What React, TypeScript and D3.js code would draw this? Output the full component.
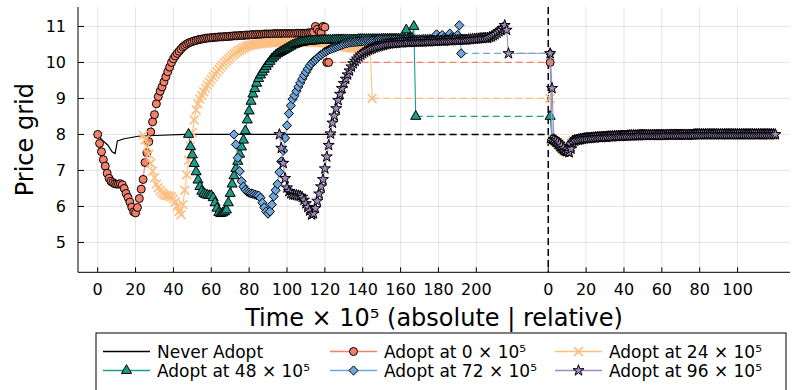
import React from 'react';
import * as d3 from 'd3';

const W = 792;
const H = 390;

// ---------- data ----------
const REL_OFFSET = 238; // absolute position of "relative 0"

const absTicks = [0, 20, 40, 60, 80, 100, 120, 140, 160, 180, 200];
const relTicks = [0, 20, 40, 60, 80, 100];
const yTicks = [5, 6, 7, 8, 9, 10, 11];

const neverT = [0, 1, 2.4, 4, 5.4, 7.6, 9.2, 10.4, 14, 21.4, 30, 46, 122];
const neverV = [8.0, 7.93, 7.84, 7.77, 7.7, 7.52, 7.47, 7.82, 7.88, 7.95, 7.97, 8.0, 8.0];
const neverDashEnd = 238;

const adoptLabels = ['Adopt at 0 × 10⁵', 'Adopt at 24 × 10⁵', 'Adopt at 48 × 10⁵', 'Adopt at 72 × 10⁵', 'Adopt at 96 × 10⁵'];
const adoptStarts = [0, 24, 48, 72, 96];

const red = [
  8.00, 7.75, 7.52, 7.30, 7.12, 6.92, 6.78, 6.70, 6.66, 6.63,
  6.62, 6.62, 6.63, 6.60, 6.50, 6.36, 6.25, 6.12, 5.98, 5.85,
  5.82, 5.97, 6.22, 6.48, 6.75, 7.22, 7.49, 7.80, 8.07, 8.35,
  8.55, 8.85, 9.05, 9.20, 9.32, 9.46, 9.60, 9.74, 9.87, 10.00,
  10.10, 10.18, 10.25, 10.31, 10.37, 10.43, 10.47, 10.51, 10.54, 10.56,
  10.58, 10.60, 10.61, 10.63, 10.64, 10.65, 10.66, 10.67, 10.68, 10.68,
  10.69, 10.69, 10.70, 10.70, 10.71, 10.71, 10.71, 10.72, 10.72, 10.72,
  10.73, 10.73, 10.74, 10.74, 10.74, 10.75, 10.75, 10.75, 10.76, 10.76,
  10.76, 10.77, 10.77, 10.77, 10.78, 10.78, 10.78, 10.78, 10.79, 10.79,
  10.79, 10.79, 10.79, 10.80, 10.80, 10.80, 10.80, 10.80, 10.80, 10.80,
  10.80, 10.80, 10.80, 10.80, 10.80, 10.81, 10.81, 10.81, 10.81, 10.81,
  10.81, 10.82, 10.82, 10.83, 10.84, 11.00, 10.92, 10.85, 10.82, 11.00,
  10.98, 10.00, 10.00,
];

const orange = [
  7.98, 7.85, 7.66, 7.45, 7.20, 6.98, 6.80, 6.62, 6.52, 6.44,
  6.38, 6.34, 6.31, 6.30, 6.29, 6.26, 6.21, 6.13, 6.00, 5.86,
  5.77, 6.05, 6.45, 6.88, 7.28, 7.68, 8.05, 8.40, 8.68, 8.85,
  8.98, 9.08, 9.18, 9.28, 9.37, 9.45, 9.53, 9.60, 9.67, 9.74,
  9.81, 9.87, 9.93, 9.99, 10.04, 10.09, 10.14, 10.19, 10.23, 10.27,
  10.31, 10.34, 10.37, 10.40, 10.43, 10.45, 10.47, 10.48, 10.49, 10.50,
  10.51, 10.52, 10.52, 10.53, 10.53, 10.54, 10.54, 10.55, 10.55, 10.55,
  10.55, 10.55, 10.55, 10.55, 10.55, 10.55, 10.56, 10.56, 10.56, 10.56,
  10.56, 10.56, 10.56, 10.56, 10.56, 10.56, 10.56, 10.56, 10.56, 10.56,
  10.56, 10.55, 10.55, 10.55, 10.55, 10.55, 10.54, 10.53, 10.52, 10.51,
  10.50, 10.49, 10.48, 10.47, 10.46, 10.45, 10.44, 10.43, 10.42, 10.41,
  10.40, 10.40, 10.39, 10.39, 10.38, 10.38, 10.37, 10.37, 10.36, 10.36,
  10.35, 9.00,
];

const teal = [
  8.00, 7.66, 7.43, 7.19, 6.96, 6.73, 6.55, 6.42, 6.36, 6.33,
  6.31, 6.30, 6.30, 6.24, 6.10, 5.95, 5.83, 5.80, 5.82, 5.85,
  5.90, 6.10, 6.36, 6.62, 6.85, 7.05, 7.25, 7.45, 7.65, 7.84,
  8.10, 8.40, 8.65, 8.92, 9.12, 9.27, 9.42, 9.55, 9.65, 9.73,
  9.81, 9.89, 9.96, 10.03, 10.10, 10.15, 10.20, 10.24, 10.27, 10.30,
  10.33, 10.36, 10.39, 10.42, 10.45, 10.48, 10.50, 10.52, 10.54, 10.55,
  10.56, 10.57, 10.58, 10.58, 10.59, 10.59, 10.60, 10.60, 10.61, 10.61,
  10.62, 10.62, 10.62, 10.62, 10.62, 10.62, 10.62, 10.63, 10.63, 10.63,
  10.63, 10.63, 10.63, 10.63, 10.63, 10.63, 10.63, 10.63, 10.63, 10.63,
  10.64, 10.64, 10.64, 10.64, 10.64, 10.64, 10.64, 10.64, 10.64, 10.64,
  10.64, 10.64, 10.65, 10.65, 10.65, 10.65, 10.65, 10.65, 10.65, 10.65,
  10.65, 10.65, 10.65, 10.65, 10.65, 10.90, 10.66, 10.66, 10.67, 11.00,
  8.50,
];

const blue = [
  8.00, 7.72, 7.35, 6.98, 6.70, 6.55, 6.46, 6.41, 6.38, 6.36,
  6.35, 6.33, 6.31, 6.30, 6.24, 6.10, 5.97, 5.86, 5.80, 5.86,
  6.05, 6.28, 6.45, 6.62, 6.95, 7.25, 7.55, 7.90, 8.25, 8.58,
  8.80, 8.98, 9.08, 9.20, 9.32, 9.43, 9.54, 9.64, 9.73, 9.82,
  9.91, 9.97, 10.03, 10.07, 10.12, 10.17, 10.21, 10.25, 10.29, 10.32,
  10.35, 10.37, 10.39, 10.41, 10.43, 10.45, 10.47, 10.49, 10.51, 10.53,
  10.54, 10.55, 10.56, 10.56, 10.57, 10.57, 10.58, 10.58, 10.59, 10.59,
  10.60, 10.60, 10.60, 10.61, 10.61, 10.61, 10.62, 10.62, 10.62, 10.62,
  10.63, 10.63, 10.63, 10.63, 10.63, 10.63, 10.63, 10.63, 10.63, 10.63,
  10.63, 10.64, 10.64, 10.64, 10.64, 10.64, 10.64, 10.64, 10.64, 10.64,
  10.65, 10.65, 10.65, 10.65, 10.65, 10.65, 10.65, 10.78, 10.68, 10.66,
  10.76, 10.68, 10.66, 10.70, 10.80, 10.70, 10.67, 10.68, 10.76, 11.03,
  10.25,
];

const purple = [
  8.00, 7.62, 7.20, 6.78, 6.52, 6.42, 6.36, 6.33, 6.32, 6.31,
  6.30, 6.29, 6.26, 6.18, 6.08, 5.98, 5.88, 5.77, 5.80, 5.95,
  6.15, 6.35, 6.55, 6.75, 7.05, 7.38, 7.70, 8.02, 8.32, 8.52,
  8.72, 8.95, 9.12, 9.28, 9.42, 9.54, 9.66, 9.77, 9.88, 9.97,
  10.04, 10.10, 10.16, 10.21, 10.25, 10.29, 10.32, 10.35, 10.37, 10.39,
  10.41, 10.43, 10.44, 10.46, 10.47, 10.48, 10.50, 10.51, 10.52, 10.53,
  10.53, 10.54, 10.54, 10.55, 10.55, 10.55, 10.56, 10.56, 10.56, 10.57,
  10.57, 10.57, 10.57, 10.57, 10.57, 10.58, 10.58, 10.58, 10.58, 10.58,
  10.59, 10.59, 10.59, 10.59, 10.60, 10.60, 10.60, 10.60, 10.61, 10.61,
  10.61, 10.61, 10.62, 10.62, 10.62, 10.62, 10.63, 10.63, 10.63, 10.63,
  10.64, 10.64, 10.65, 10.65, 10.66, 10.66, 10.67, 10.67, 10.68, 10.68,
  10.68, 10.70, 10.72, 10.75, 10.78, 10.82, 10.86, 10.90, 10.95, 11.03,
  10.90, 10.25,
];

// relative part: first value(s) per series, then the shared recovery (rel 2..119)
const relStart = [[10.0], [9.0], [8.5], [10.25], [10.25, 9.28]];
const relRecovery = [
  7.86, 7.83, 7.79, 7.74, 7.68, 7.62, 7.57, 7.53, 7.50, 7.60,
  7.76, 7.82, 7.84, 7.85, 7.86, 7.87, 7.88, 7.89, 7.89, 7.90,
  7.90, 7.91, 7.91, 7.92, 7.92, 7.92, 7.93, 7.93, 7.93, 7.94,
  7.94, 7.94, 7.95, 7.95, 7.95, 7.95, 7.96, 7.96, 7.96, 7.96,
  7.97, 7.97, 7.97, 7.97, 7.97, 7.97, 7.98, 7.98, 7.98, 7.98,
  7.98, 7.98, 7.98, 7.98, 7.98, 7.98, 7.98, 7.98, 7.98, 7.98,
  7.99, 7.99, 7.99, 7.99, 7.99, 7.99, 7.99, 7.99, 7.99, 7.99,
  7.99, 7.99, 7.99, 7.99, 7.99, 8.00, 8.00, 8.00, 8.00, 8.00,
  8.00, 8.00, 8.00, 8.00, 8.00, 8.00, 8.00, 8.00, 8.00, 8.00,
  8.00, 8.00, 8.00, 8.00, 8.00, 8.00, 8.00, 8.00, 8.00, 8.00,
  8.00, 8.00, 8.00, 8.00, 8.00, 8.00, 8.00, 8.00, 8.00, 8.00,
  8.00, 8.00, 8.00, 8.00, 8.00, 8.00, 8.00, 8.00,
];

const adoptValues = [red, orange, teal, blue, purple];
const adoptColors = ['#F4806C', '#FDBF80', '#1F9C88', '#6DA7DD', '#A18BBF'];
const adoptShapes = ['circle', 'xcross', 'utriangle', 'diamond', 'star'];

// ---------- rendering ----------
const FONT = 'DejaVu Sans, Noto Sans, sans-serif';
const L = 78, R = 790, T = 7, B = 272.3;

const triPath = d3.symbol(d3.symbolTriangle, 44)() as string;
const starPath = d3.symbol(d3.symbolStar, 38)() as string;
const diamondPath = 'M0,-4.6L4.6,0L0,4.6L-4.6,0Z';
const crossPath = 'M-4.4,-4.4L4.4,4.4M-4.4,4.4L4.4,-4.4';

function Marker({ shape, color, x, y }: { shape: string; color: string; x: number; y: number }) {
  const tr = `translate(${x},${y})`;
  const sw = 1;
  if (shape === 'circle') return <circle cx={x} cy={y} r={4} fill={color} stroke="#000" strokeWidth={sw} />;
  if (shape === 'xcross') return <path transform={tr} d={crossPath} fill="none" stroke={color} strokeWidth={1.6} />;
  if (shape === 'utriangle') return <path transform={tr} d={triPath} fill={color} stroke="#000" strokeWidth={sw} />;
  if (shape === 'diamond') return <path transform={tr} d={diamondPath} fill={color} stroke="#000" strokeWidth={sw} />;
  return <path transform={tr} d={starPath} fill={color} stroke="#000" strokeWidth={sw} />;
}

export default function App() {
  const x = d3.scaleLinear().domain([-10.4, 365.7]).range([L, R]);
  const y = d3.scaleLinear().domain([4.17, 11.54]).range([B, T]);
  const line = d3.line<[number, number]>().x((d) => x(d[0])).y((d) => y(d[1]));

  const neverPts: [number, number][] = neverT.map((t, i) => [t, neverV[i]]);
  const neverLastT = neverT[neverT.length - 1];

  const series = adoptValues.map((vals, si) => {
    const start = adoptStarts[si];
    const abs: [number, number][] = vals.map((v, i) => [start + i, v]);
    const relVals = relStart[si].concat(relRecovery);
    const rel: [number, number][] = relVals.map((v, i) => [REL_OFFSET + 1 + i, v]);
    const last = abs[abs.length - 1];
    const dash: [number, number][] = [last, rel[0]];
    return { abs, rel, dash, color: adoptColors[si], shape: adoptShapes[si], label: adoptLabels[si] };
  });

  const xTickItems = [
    ...absTicks.map((t) => ({ pos: t, label: String(t) })),
    ...relTicks.map((t) => ({ pos: REL_OFFSET + t, label: String(t) })),
  ];

  const legendCols = [103, 330, 555];
  const legendRows = [351.5, 370.5];
  const legendItems = [
    { label: 'Never Adopt', color: '#000', shape: '' },
    ...series.map((s) => ({ label: s.label, color: s.color, shape: s.shape })),
  ];

  return (
    <svg width={W} height={H} style={{ position: 'absolute', left: 0, top: 0, background: '#fff' }} fontFamily={FONT}>
      <rect x={0} y={0} width={W} height={H} fill="#fff" />
      {/* grid */}
      <g stroke="#000" strokeOpacity={0.1} strokeWidth={1}>
        {xTickItems.map((d, i) => (
          <line key={'gx' + i} x1={x(d.pos)} x2={x(d.pos)} y1={T} y2={B} />
        ))}
        {yTicks.map((v) => (
          <line key={'gy' + v} x1={L} x2={R} y1={y(v)} y2={y(v)} />
        ))}
      </g>

      {/* reference lines */}
      <line x1={x(REL_OFFSET)} x2={x(REL_OFFSET)} y1={T} y2={B} stroke="#000" strokeWidth={1.5} strokeDasharray="7 4" />
      <path d={line(neverPts) as string} fill="none" stroke="#000" strokeWidth={1.2} />
      <path d={line([[neverLastT, 8], [neverDashEnd, 8]]) as string} fill="none" stroke="#000" strokeWidth={1.5} strokeDasharray="7 4" />

      {/* series */}
      {series.map((s, si) => (
        <g key={'s' + si}>
          <path d={line(s.abs) as string} fill="none" stroke={s.color} strokeWidth={1.1} />
          <path d={line(s.dash) as string} fill="none" stroke={s.color} strokeWidth={1.3} strokeDasharray="7 4" />
          <path d={line(s.rel) as string} fill="none" stroke={s.color} strokeWidth={1.1} />
          {s.abs.map((d, i) => (
            <Marker key={'a' + i} shape={s.shape} color={s.color} x={x(d[0])} y={y(d[1])} />
          ))}
          {s.rel.map((d, i) => (
            <Marker key={'r' + i} shape={s.shape} color={s.color} x={x(d[0])} y={y(d[1])} />
          ))}
        </g>
      ))}

      {/* axes */}
      <line x1={L} x2={L} y1={T} y2={B} stroke="#000" strokeWidth={1} />
      <line x1={L} x2={R} y1={B} y2={B} stroke="#000" strokeWidth={1} />
      {xTickItems.map((d, i) => (
        <g key={'xt' + i}>
          <line x1={x(d.pos)} x2={x(d.pos)} y1={B} y2={B - 5} stroke="#000" strokeWidth={1} />
          <text x={x(d.pos)} y={295} fontSize={16} textAnchor="middle" fill="#000">{d.label}</text>
        </g>
      ))}
      {yTicks.map((v) => (
        <g key={'yt' + v}>
          <line x1={L} x2={L + 6} y1={y(v)} y2={y(v)} stroke="#000" strokeWidth={1} />
          <text x={66} y={y(v)} fontSize={16} textAnchor="end" dominantBaseline="central" fill="#000">{v}</text>
        </g>
      ))}

      {/* axis labels */}
      <text x={(L + R) / 2} y={326} fontSize={24} textAnchor="middle" fill="#000">Time × 10⁵ (absolute | relative)</text>
      <text transform={`translate(33,${(T + B) / 2}) rotate(-90)`} fontSize={24} textAnchor="middle" fill="#000">Price grid</text>

      {/* legend */}
      <rect x={96} y={333} width={690} height={80} fill="#fff" stroke="#000" strokeWidth={1} />
      {legendItems.map((it, i) => {
        const cx = legendCols[i % 3];
        const cy = legendRows[Math.floor(i / 3)];
        return (
          <g key={'lg' + i}>
            <line x1={cx} x2={cx + 47} y1={cy} y2={cy} stroke={it.color} strokeWidth={1.3} />
            {it.shape ? <Marker shape={it.shape} color={it.color} x={cx + 23.5} y={cy} /> : null}
            <text x={cx + 54} y={cy} fontSize={17} dominantBaseline="central" fill="#000">{it.label}</text>
          </g>
        );
      })}
    </svg>
  );
}
